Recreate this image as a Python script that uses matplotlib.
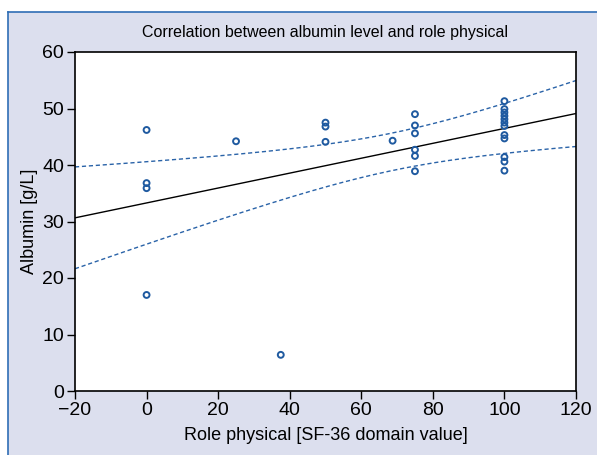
import numpy as np
import matplotlib
matplotlib.use("Agg")
import matplotlib.pyplot as plt
from matplotlib.patches import Rectangle
from matplotlib.lines import Line2D

plt.rcParams['font.family'] = ['Liberation Sans', 'DejaVu Sans']

# role physical score vs albumin level
role_physical = [0, 0, 0, 0,
                 25,
                 37.5,
                 50, 50, 50,
                 68.75,
                 75, 75, 75, 75, 75, 75,
                 100, 100, 100, 100, 100, 100, 100, 100, 100, 100, 100, 100]
albumin = [46.2, 36.8, 35.9, 17.0,
           44.2,
           6.4,
           47.5, 46.8, 44.1,
           44.3,
           49.0, 47.0, 45.6, 42.7, 41.6, 38.9,
           51.3, 49.9, 49.3, 48.7, 48.1, 47.5, 46.9, 45.3, 44.7, 41.4, 40.6, 39.0]

x = np.array(role_physical)
y = np.array(albumin)
n = len(x)
slope, intercept = np.polyfit(x, y, 1)
resid = y - (slope * x + intercept)
s = np.sqrt(np.sum(resid ** 2) / (n - 2))
t95 = 2.056
xs = np.linspace(-20, 120, 200)
fit = slope * xs + intercept
se = s * np.sqrt(1 / n + (xs - x.mean()) ** 2 / np.sum((x - x.mean()) ** 2))

fig = plt.figure(figsize=(5.97, 4.55), dpi=100)
bg = '#dcdfee'
edge = '#2f6db5'
fig.patches.append(Rectangle((8 / 597, 0), 1, 1 - 12 / 455, transform=fig.transFigure,
                             facecolor=bg, edgecolor='none', zorder=-10))
fig.lines.append(Line2D([8 / 597, 8 / 597], [0, 1 - 12 / 455], transform=fig.transFigure,
                        color=edge, lw=1.2, zorder=-5))
fig.lines.append(Line2D([8 / 597, 1], [1 - 12 / 455, 1 - 12 / 455], transform=fig.transFigure,
                        color=edge, lw=1.2, zorder=-5))

ax = fig.add_axes([75 / 597, 1 - 391 / 455, (576 - 75) / 597, (391 - 52) / 455])
ax.set_facecolor('white')

ax.plot(xs, fit, color='black', lw=1.0)
ax.plot(xs, fit + t95 * se, color='#2a63a8', lw=1.0, ls=(0, (3, 2)))
ax.plot(xs, fit - t95 * se, color='#2a63a8', lw=1.0, ls=(0, (3, 2)))
ax.scatter(x, y, s=18, facecolors='none', edgecolors='#1f5aa0', linewidths=1.4, zorder=3)

ax.set_xlim(-20, 120)
ax.set_ylim(0, 60)
ax.set_xticks(range(-20, 121, 20))
ax.set_yticks(range(0, 61, 10))
ax.tick_params(direction='out', length=6, width=1, labelsize=14, pad=2,
               top=False, right=False)
for sp in ax.spines.values():
    sp.set_linewidth(1.2)

ax.set_xlabel('Role physical [SF-36 domain value]', fontsize=13, labelpad=6)
ax.set_ylabel('Albumin [g/L]', fontsize=13, labelpad=3)
ax.set_title('Correlation between albumin level and role physical', fontsize=11.5, pad=11)

fig.savefig('out.png', dpi=100)
